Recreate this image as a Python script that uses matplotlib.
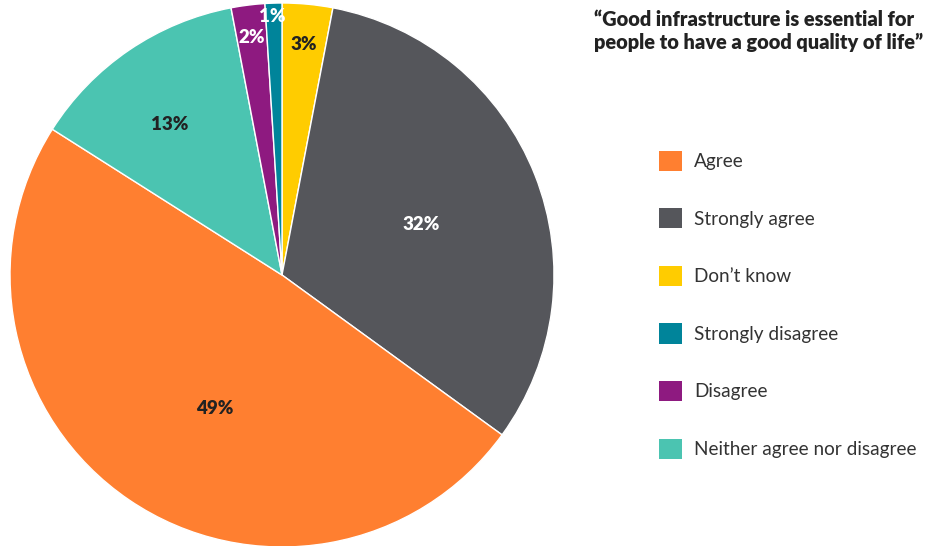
import matplotlib.pyplot as plt
import numpy as np

plt.rcParams['font.family'] = ['Lato', 'DejaVu Sans']

# wedges, clockwise from 12 o'clock
categories = ["Don\u2019t know", "Strongly agree", "Agree",
              "Neither agree nor disagree", "Disagree", "Strongly disagree"]
values = [3, 32, 49, 13, 2, 1]
colors = ["#FFCC00", "#55565B", "#FF7F30", "#4BC4B1", "#8E1A80", "#00849A"]
label_colors = ["#222222", "white", "#222222", "#222222", "white", "white"]
# radial position (fraction of radius) and angle shift of each % label
label_r = [0.85, 0.545, 0.55, 0.69, 0.88, 0.95]
label_shift = [0, -1.5, 7.5, 2.4, 0, 0.4]

legend_order = ["Agree", "Strongly agree", "Don\u2019t know",
                "Strongly disagree", "Disagree", "Neither agree nor disagree"]

fig = plt.figure(figsize=(9.25, 5.46), dpi=100)
ax = fig.add_axes([10 / 925, -1 / 546, 544 / 925, 544 / 546])
wedges, _ = ax.pie(values, colors=colors, startangle=90, counterclock=False,
                   radius=1, wedgeprops=dict(edgecolor="white", linewidth=1))
for w in wedges:
    w.set_clip_on(False)
ax.set_xlim(-1, 1)
ax.set_ylim(-1, 1)
ax.set_aspect("equal")
ax.axis("off")

for w, v, c, r, s in zip(wedges, values, label_colors, label_r, label_shift):
    mid = np.deg2rad((w.theta1 + w.theta2) / 2 + s)
    ax.text(r * np.cos(mid), r * np.sin(mid), f"{v}%", ha="center", va="center",
            color=c, fontsize=13.5, fontweight="heavy")

fig.text(594 / 925, 1 - 10 / 546,
         "\u201cGood infrastructure is essential for\npeople to have a good quality of life\u201d",
         ha="left", va="top", fontsize=14.4, fontweight="heavy", color="#222222",
         linespacing=1.25)

handles = [wedges[categories.index(n)] for n in legend_order]
leg = fig.legend(handles, legend_order, loc="upper left",
                 bbox_to_anchor=(651 / 925, 1 - 143 / 546), frameon=False,
                 fontsize=13.7, handlelength=1.25, handleheight=1.25,
                 handletextpad=0.6, labelspacing=1.97, borderaxespad=0)
for h in leg.legend_handles:
    h.set_edgecolor("none")
for t in leg.get_texts():
    t.set_color("#333333")

fig.savefig("out.png", dpi=100)
